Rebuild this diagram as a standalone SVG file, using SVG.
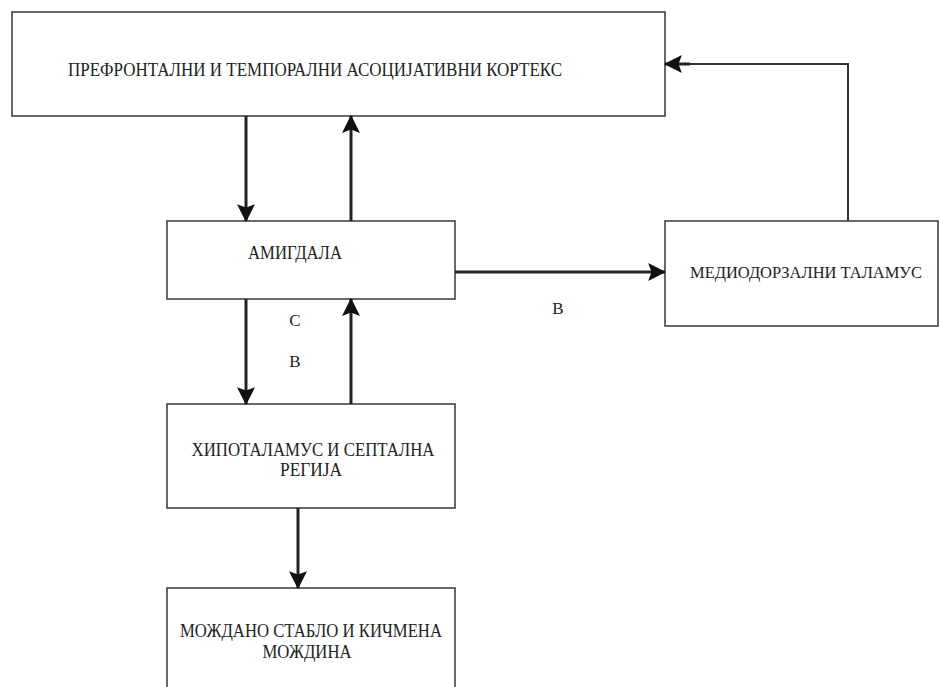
<svg xmlns="http://www.w3.org/2000/svg" width="940" height="687" viewBox="0 0 940 687">
<style>
.box{fill:#fff;stroke:#444;stroke-width:1.6}
.t{font-family:"Liberation Serif","DejaVu Serif","Times New Roman",serif;font-size:18px;fill:#222;text-anchor:middle}
.lbl{font-family:"Liberation Serif","DejaVu Serif","Times New Roman",serif;font-size:17px;fill:#222;text-anchor:middle}
.c{fill:none;stroke:#222;stroke-width:3}
.thin{fill:none;stroke:#333;stroke-width:2}
</style>
<defs>
<marker id="ah" markerUnits="userSpaceOnUse" markerWidth="18" markerHeight="18" refX="15" refY="8" orient="auto" viewBox="0 0 16 16">
<path d="M0,0 L16,8 L0,16 L3,8 Z" fill="#111"/>
</marker>
</defs>
<rect width="940" height="687" fill="#fff"/>
<g id="cortex">
<rect class="box" x="12" y="12" width="653" height="104"/>
<text class="t" x="315" y="76" textLength="494" lengthAdjust="spacingAndGlyphs">ПРЕФРОНТАЛНИ  И ТЕМПОРАЛНИ АСОЦИЈАТИВНИ КОРТЕКС</text>
</g>
<g id="amigdala">
<rect class="box" x="167" y="221" width="288" height="78"/>
<text class="t" x="295" y="259" textLength="94" lengthAdjust="spacingAndGlyphs">АМИГДАЛА</text>
</g>
<g id="thalamus">
<rect class="box" x="665" y="221" width="273" height="105"/>
<text class="t" x="806" y="278" style="font-size:16px" textLength="232" lengthAdjust="spacingAndGlyphs">МЕДИОДОРЗАЛНИ ТАЛАМУС</text>
</g>
<g id="hypothalamus">
<rect class="box" x="167" y="404" width="288" height="104"/>
<text class="t" x="313" y="456" textLength="243" lengthAdjust="spacingAndGlyphs">ХИПОТАЛАМУС И СЕПТАЛНА</text>
<text class="t" x="311" y="476" textLength="62" lengthAdjust="spacingAndGlyphs">РЕГИЈА</text>
</g>
<g id="brainstem">
<rect class="box" x="167" y="588" width="288" height="110"/>
<text class="t" x="311" y="637" textLength="262" lengthAdjust="spacingAndGlyphs">МОЖДАНО СТАБЛО И КИЧМЕНА</text>
<text class="t" x="307" y="658" textLength="89" lengthAdjust="spacingAndGlyphs">МОЖДИНА</text>
</g>
<g id="connectors">
<line class="c" x1="246" y1="116" x2="246" y2="221" marker-end="url(#ah)"/>
<line class="c" x1="351" y1="221" x2="351" y2="116" marker-end="url(#ah)"/>
<line class="c" x1="246" y1="299" x2="246" y2="404" marker-end="url(#ah)"/>
<line class="c" x1="351" y1="404" x2="351" y2="299" marker-end="url(#ah)"/>
<line class="c" x1="298" y1="508" x2="298" y2="588" marker-end="url(#ah)"/>
<line class="c" x1="455" y1="272" x2="665" y2="272" marker-end="url(#ah)"/>
<polyline class="thin" points="848,221 848,64 680,64"/>
<line class="c" x1="690" y1="64" x2="665" y2="64" marker-end="url(#ah)"/>
<text class="lbl" x="295" y="326">С</text>
<text class="lbl" x="295" y="367">В</text>
<text class="lbl" x="558" y="314">В</text>
</g>
</svg>
